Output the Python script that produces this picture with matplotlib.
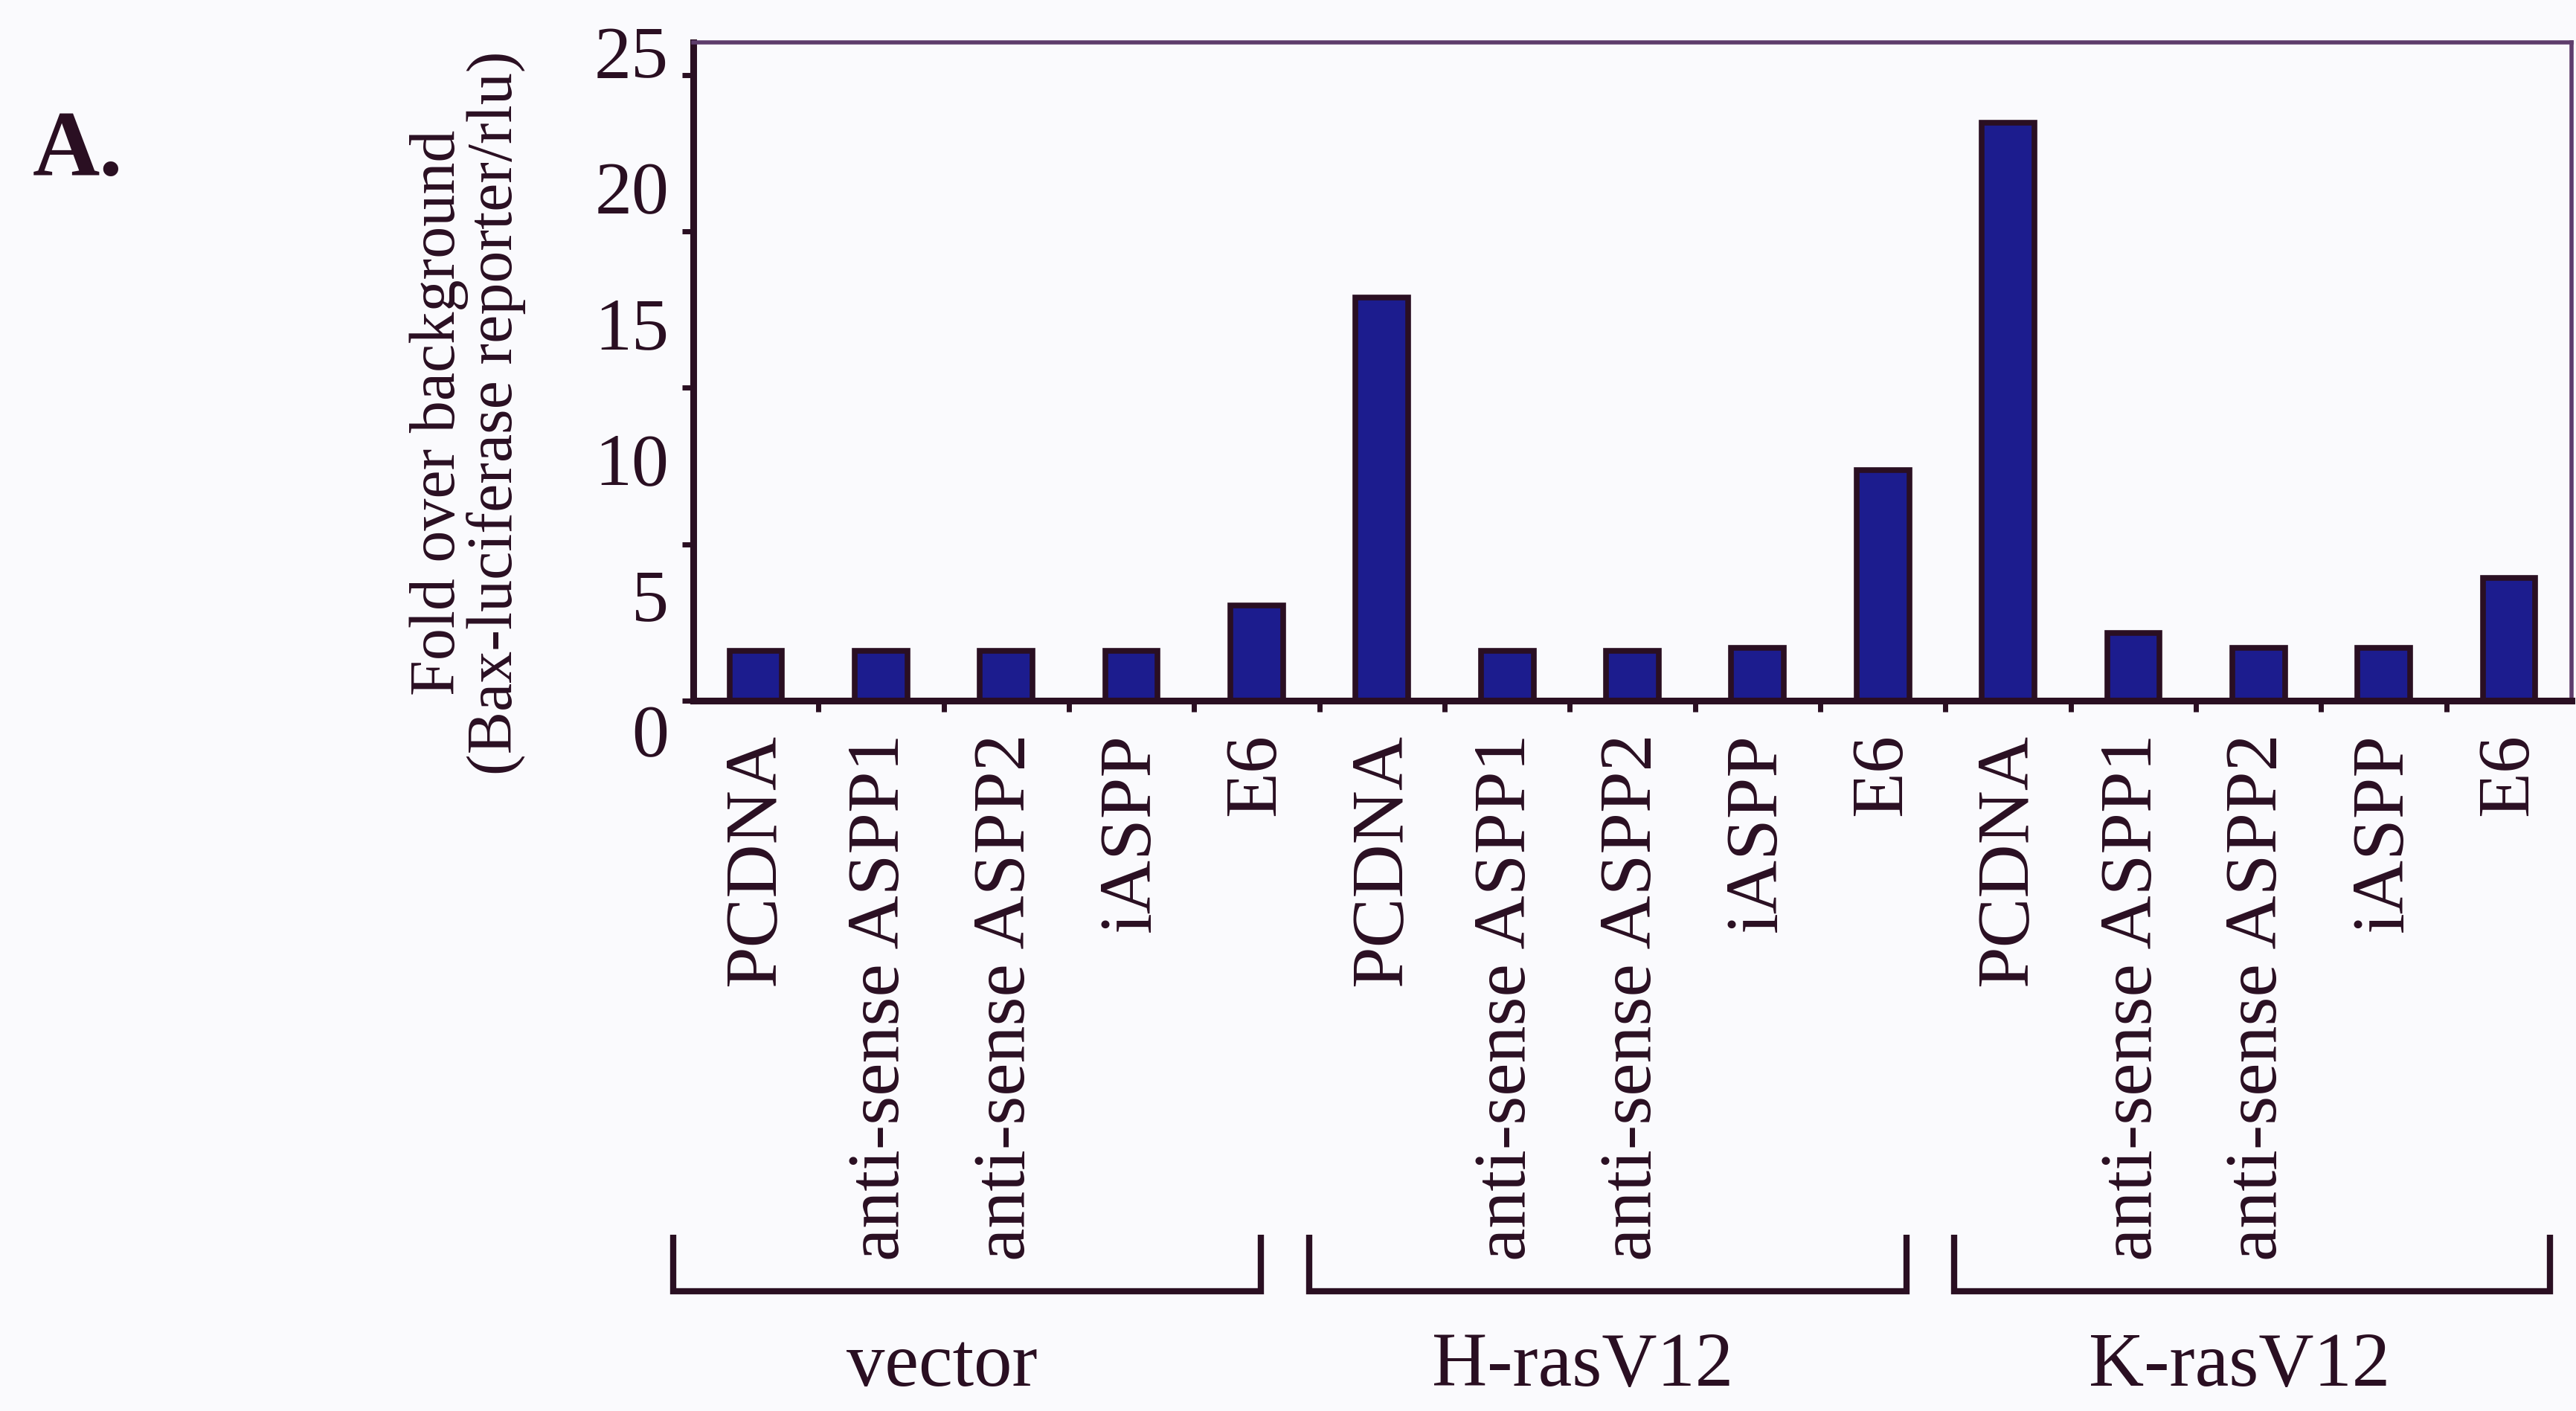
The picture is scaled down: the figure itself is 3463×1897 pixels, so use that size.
import matplotlib.pyplot as plt
from matplotlib.transforms import blended_transform_factory

# bar data (fold over background)
conditions = ["PCDNA", "anti-sense ASPP1", "anti-sense ASPP2", "iASPP", "E6"]
groups = ["vector", "H-rasV12", "K-rasV12"]
vector_vals = [2.0, 2.0, 2.0, 2.0, 3.8]
hras_vals = [16.1, 2.0, 2.0, 2.1, 9.2]
kras_vals = [23.1, 2.7, 2.1, 2.1, 4.9]
ytick_labels = [0, 5, 10, 15, 20, 25]

values = vector_vals + hras_vals + kras_vals
labels = conditions * len(groups)
x = list(range(len(values)))

ink = "#2a0f22"
bar_face = "#1c1c8e"
bg = "#fafafd"

# how far each bracket sticks out past its first / last bar (in bar slots)
bracket_pad = [(0.66, 0.03), (0.58, 0.19), (0.43, 0.33)]
# nudge of each group name from its bracket centre
name_shift = [-0.2, -0.2, -0.1]

plt.rcParams['font.family'] = ['Liberation Serif', 'DejaVu Serif']

fig = plt.figure(figsize=(34.63, 18.97), dpi=100, facecolor=bg)
ax = fig.add_axes([0.2691, 0.5034, 0.7292, 0.4666])
ax.set_facecolor(bg)

ax.bar(x, values, width=0.42, color=bar_face, edgecolor=ink, linewidth=5.5)
ax.set_xlim(-0.5, len(values) - 0.5)
ax.set_ylim(0, 26.3)

# spines
for side in ["left", "bottom"]:
    ax.spines[side].set_linewidth(6.5)
    ax.spines[side].set_color(ink)
for side in ["top", "right"]:
    ax.spines[side].set_linewidth(4)
    ax.spines[side].set_color("#5e3d6c")

# y ticks: marks only, labels placed as in the original (offset from marks)
ax.set_yticks([0, 6.25, 12.5, 18.75, 25])
ax.set_yticklabels([])
ax.tick_params(axis="y", direction="out", length=11, width=5, color=ink)
ty = blended_transform_factory(ax.transAxes, ax.transData)
for v in ytick_labels:
    ax.text(-0.013, v * 1.085 - 1.5, str(v), transform=ty, ha="right",
            va="center", fontsize=72, color=ink)

# x ticks: labels at bar centres, marks at category boundaries
ax.set_xticks(x)
ax.set_xticklabels(labels, rotation=90, fontsize=72, color=ink)
ax.tick_params(axis="x", which="major", length=0, pad=32)
ax.set_xticks([i + 0.5 for i in x[:-1]], minor=True)
ax.tick_params(axis="x", which="minor", direction="out", length=11,
               width=5, color=ink)

# group brackets and names
tb = blended_transform_factory(ax.transData, ax.transAxes)
n = len(conditions)
for g, name in enumerate(groups):
    left = g * n - bracket_pad[g][0]
    right = (g + 1) * n - 1 + bracket_pad[g][1]
    ax.plot([left, left, right, right], [-0.811, -0.897, -0.897, -0.811],
            transform=tb, color=ink, lw=6, clip_on=False,
            solid_joinstyle="miter", solid_capstyle="butt")
    ax.text((left + right) / 2 + name_shift[g], -1.04, name, transform=tb,
            ha="center", va="baseline", fontsize=74, color=ink)

# y-axis label (two lines)
fig.text(0.1705, 0.7074, "Fold over background", rotation=90,
         ha="center", va="center", fontsize=62, color=ink)
fig.text(0.1925, 0.7074, "(Bax-luciferase reporter/rlu)", rotation=90,
         ha="center", va="center", fontsize=62, color=ink)

# panel letter
fig.text(0.0127, 0.876, "A.", fontsize=90, fontweight="bold",
         ha="left", va="baseline", color=ink)

fig.savefig("out.png", dpi=100, facecolor=bg)
